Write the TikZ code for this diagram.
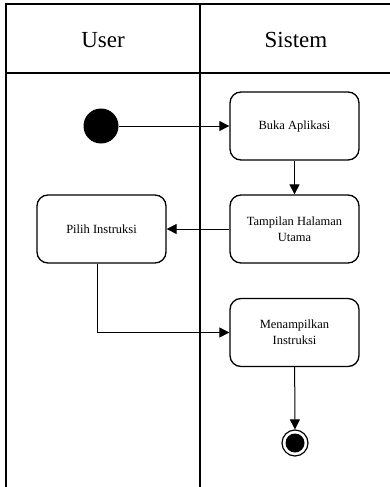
\documentclass[tikz,border=0pt]{standalone}
\usepackage{fontspec}
\setmainfont{Liberation Serif}
\usetikzlibrary{arrows.meta}
\begin{document}
\begin{tikzpicture}[x=1pt,y=-1pt,
  act/.style={draw,line width=1.3pt,rounded corners=11pt,minimum width=129pt,minimum height=68pt,align=center,font=\fontsize{12.5}{16}\selectfont,inner sep=2pt},
  flow/.style={line width=1pt,-{Triangle[length=10pt,width=10pt]}},
  lane/.style={line width=1.6pt},
  hdr/.style={font=\fontsize{23}{26}\selectfont}]
\useasboundingbox (0,0) rectangle (390,487);
% swimlane frame
\coordinate (tl) at (6,4);
\coordinate (tr) at (392,4);
\coordinate (bl) at (6,490);
\coordinate (hl) at (6,73);
\coordinate (hr) at (392,73);
\coordinate (dt) at (200,4);
\coordinate (db) at (200,490);
\draw[lane,line width=2pt] (bl) -- (tl) -- (tr);
\draw[lane] (hl) -- (hr);
\draw[lane] (dt) -- (db);
\node[hdr] (user) at (103,40) {User};
\node[hdr] (sistem) at (296,40) {Sistem};
% nodes
\node[circle,fill=black,minimum size=35pt,inner sep=0pt] (start) at (101,126) {};
\node[act] (buka) at (294.5,126) {Buka Aplikasi};
\node[act] (tampil) at (294.5,229) {Tampilan Halaman\\Utama};
\node[act] (pilih) at (101.5,229) {Pilih Instruksi};
\node[act] (menam) at (294.5,332.5) {Menampilkan\\Instruksi};
\node[circle,draw,line width=1.2pt,minimum size=26pt,inner sep=0pt] (end) at (295,443) {};
\node[circle,fill=black,minimum size=19pt,inner sep=0pt] (endin) at (end) {};
% flows
\draw[flow] (start) -- (buka);
\draw[flow] (buka) -- (tampil);
\draw[flow] (tampil) -- (pilih);
\draw[flow] (pilih.south -| 97,0) |- (menam.west);
\draw[flow] (menam) -- (end);
\end{tikzpicture}
\end{document}
